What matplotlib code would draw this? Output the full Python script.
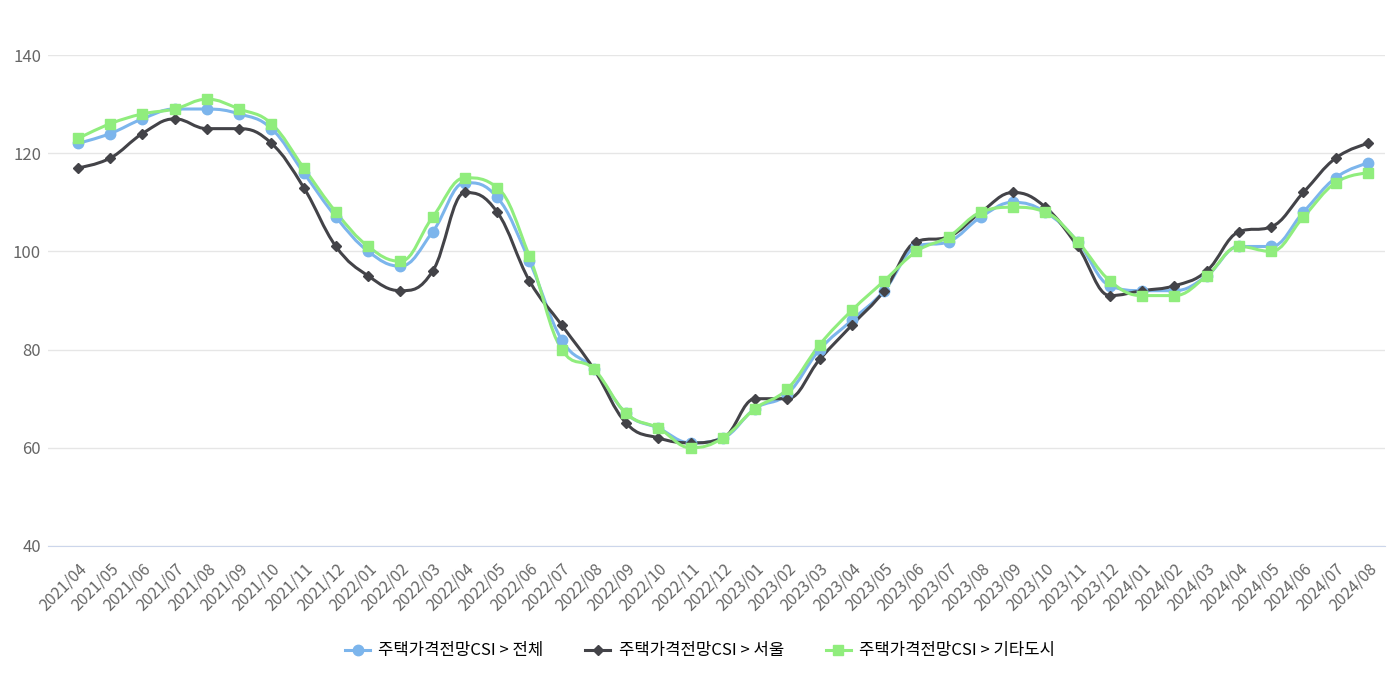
import matplotlib
matplotlib.use("Agg")
import matplotlib.pyplot as plt
from matplotlib.path import Path
from matplotlib.patches import PathPatch
from matplotlib.lines import Line2D

plt.rcParams['font.family'] = ['Noto Sans CJK KR', 'DejaVu Sans']

months = [
    "2021/04", "2021/05", "2021/06", "2021/07", "2021/08", "2021/09", "2021/10", "2021/11", "2021/12",
    "2022/01", "2022/02", "2022/03", "2022/04", "2022/05", "2022/06", "2022/07", "2022/08", "2022/09",
    "2022/10", "2022/11", "2022/12", "2023/01", "2023/02", "2023/03", "2023/04", "2023/05", "2023/06",
    "2023/07", "2023/08", "2023/09", "2023/10", "2023/11", "2023/12", "2024/01", "2024/02", "2024/03",
    "2024/04", "2024/05", "2024/06", "2024/07", "2024/08",
]
total = [122, 124, 127, 129, 129, 128, 125, 116, 107, 100, 97, 104, 114, 111, 98, 82, 76, 67, 64, 61, 62,
         68, 71, 80, 86, 92, 101, 102, 107, 110, 108, 102, 93, 92, 92, 95, 101, 101, 108, 115, 118]
seoul = [117, 119, 124, 127, 125, 125, 122, 113, 101, 95, 92, 96, 112, 108, 94, 85, 76, 65, 62, 61, 62,
         70, 70, 78, 85, 92, 102, 103, 108, 112, 109, 101, 91, 92, 93, 96, 104, 105, 112, 119, 122]
others = [123, 126, 128, 129, 131, 129, 126, 117, 108, 101, 98, 107, 115, 113, 99, 80, 76, 67, 64, 60, 62,
          68, 72, 81, 88, 94, 100, 103, 108, 109, 108, 102, 94, 91, 91, 95, 101, 100, 107, 114, 116]

series = [
    ("주택가격전망CSI > 전체", total, "#7cb5ec", "o", 7.5),
    ("주택가격전망CSI > 서울", seoul, "#434348", "D", 5.5),
    ("주택가격전망CSI > 기타도시", others, "#90ed7d", "s", 7.5),
]


def spline_path(xs, ys, smoothing=1.5):
    # highcharts-style spline: bezier control points around each point
    n = len(xs)
    left = [(x, y) for x, y in zip(xs, ys)]
    right = [(x, y) for x, y in zip(xs, ys)]
    d = smoothing + 1
    for i in range(1, n - 1):
        px, py = xs[i], ys[i]
        lx, ly = xs[i - 1], ys[i - 1]
        nx, ny = xs[i + 1], ys[i + 1]
        lcx = (smoothing * px + lx) / d
        lcy = (smoothing * py + ly) / d
        rcx = (smoothing * px + nx) / d
        rcy = (smoothing * py + ny) / d
        corr = (rcy - lcy) * (rcx - px) / (rcx - lcx) + py - rcy
        lcy += corr
        rcy += corr
        if lcy > ly and lcy > py:
            lcy = max(ly, py)
            rcy = 2 * py - lcy
        elif lcy < ly and lcy < py:
            lcy = min(ly, py)
            rcy = 2 * py - lcy
        if rcy > ny and rcy > py:
            rcy = max(ny, py)
            lcy = 2 * py - rcy
        elif rcy < ny and rcy < py:
            rcy = min(ny, py)
            lcy = 2 * py - rcy
        left[i] = (lcx, lcy)
        right[i] = (rcx, rcy)
    verts = [(xs[0], ys[0])]
    codes = [Path.MOVETO]
    for i in range(1, n):
        verts += [right[i - 1], left[i], (xs[i], ys[i])]
        codes += [Path.CURVE4] * 3
    return Path(verts, codes)


fig = plt.figure(figsize=(14, 7), dpi=100)
ax = fig.add_axes([48 / 1400, 1 - 546 / 700, (1385 - 48) / 1400, (546 - 55) / 700])

x = list(range(len(months)))
handles = []
for name, vals, color, marker, ms in series:
    patch = PathPatch(spline_path(x, vals), facecolor="none", edgecolor=color, lw=2.2, zorder=2)
    ax.add_patch(patch)
    ax.plot(x, vals, linestyle="none", marker=marker, color=color, markersize=ms, zorder=3)
    handles.append(Line2D([], [], color=color, lw=2.2, marker=marker, markersize=ms, label=name))

ax.set_xlim(-0.93, 40.53)
ax.set_ylim(40, 140)
ax.set_yticks([40, 60, 80, 100, 120, 140])
ax.grid(axis="y", color="#e6e6e6", lw=1)
ax.set_axisbelow(True)
for s in ["top", "right", "left"]:
    ax.spines[s].set_visible(False)
ax.spines["bottom"].set_color("#ccd6eb")
ax.tick_params(length=0)
ax.tick_params(axis="y", labelsize=12, labelcolor="#666666", pad=5)

ax.set_xticks(x)
ax.set_xticklabels(months, rotation=45, ha="right", va="top", rotation_mode="anchor",
                   fontsize=11.5, color="#666666")
ax.tick_params(axis="x", pad=10)

fig.legend(handles=handles, loc="center", bbox_to_anchor=(0.5, 1 - 651 / 700), ncol=3,
           frameon=False, fontsize=12, handlelength=1.5, columnspacing=2.5, handletextpad=0.5)

fig.savefig("out.png", dpi=100, facecolor="white")
